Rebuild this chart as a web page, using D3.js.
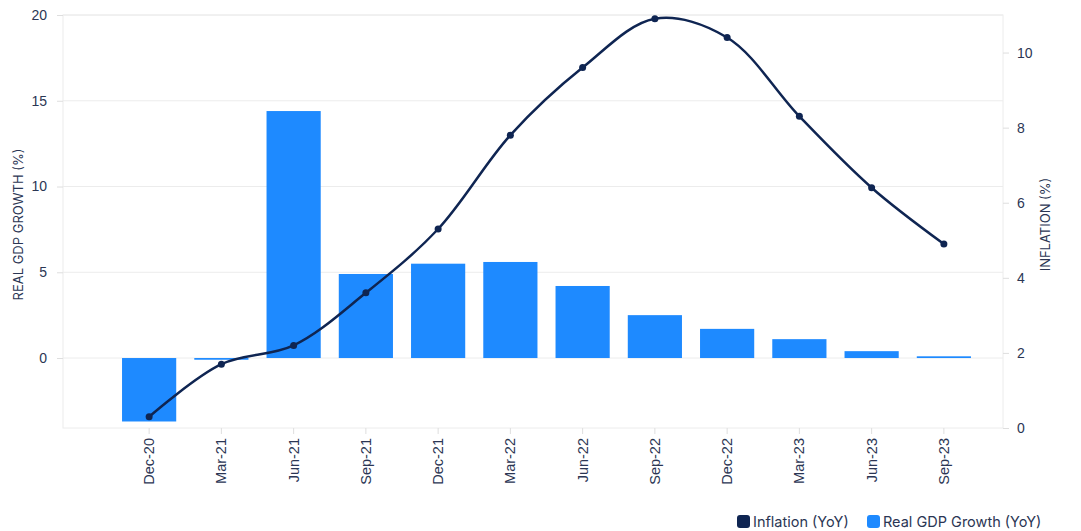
<!DOCTYPE html>
<html>
<head>
<meta charset="utf-8">
<script src="https://cdn.jsdelivr.net/npm/d3@7"></script>
<style>
  html, body { margin: 0; padding: 0; background: #fff; }
  svg { display: block; font-family: "Inter", "Noto Sans", sans-serif; }
</style>
</head>
<body>
<svg id="chart" width="1081" height="531"></svg>
<script>
// Quarterly data
const quarters = ["Dec-20", "Mar-21", "Jun-21", "Sep-21", "Dec-21", "Mar-22",
                  "Jun-22", "Sep-22", "Dec-22", "Mar-23", "Jun-23", "Sep-23"];
const gdpGrowth = [-3.7, -0.1, 14.4, 4.9, 5.5, 5.6, 4.2, 2.5, 1.7, 1.1, 0.4, 0.1];
const inflation = [0.3, 1.7, 2.2, 3.6, 5.3, 7.8, 9.6, 10.9, 10.4, 8.3, 6.4, 4.9];
const gdpTicks = [0, 5, 10, 15, 20];
const inflationTicks = [0, 2, 4, 6, 8, 10];

const textColor = "#2b3654";
const gridColor = "#ececec";
const barColor = "#1e8aff";
const lineColor = "#0f2552";

const svg = d3.select("#chart");
const plot = { left: 63, right: 1003, top: 15, bottom: 428 };

const x = d3.scaleBand().domain(quarters).range([113, 980])
  .paddingInner(0.25).paddingOuter(0.125);
const yL = d3.scaleLinear().domain([-4.08, 20]).range([plot.bottom, plot.top]);
const yR = d3.scaleLinear().domain([0, 11]).range([plot.bottom, plot.top]);

// Horizontal grid from the GDP axis
svg.append("g").selectAll("line").data(gdpTicks).join("line")
  .attr("x1", plot.left).attr("x2", plot.right)
  .attr("y1", d => yL(d)).attr("y2", d => yL(d))
  .attr("stroke", gridColor).attr("stroke-width", 1);

// Plot frame
svg.append("rect")
  .attr("x", plot.left).attr("y", plot.top)
  .attr("width", plot.right - plot.left).attr("height", plot.bottom - plot.top)
  .attr("fill", "none").attr("stroke", gridColor).attr("stroke-width", 1);

// Left axis
const leftAxis = svg.append("g")
  .attr("transform", `translate(${plot.left},0)`)
  .call(d3.axisLeft(yL).tickValues(gdpTicks).tickSize(6).tickPadding(10));
// Right axis
const rightAxis = svg.append("g")
  .attr("transform", `translate(${plot.right},0)`)
  .call(d3.axisRight(yR).tickValues(inflationTicks).tickSize(6).tickPadding(8));
// Bottom axis
const bottomAxis = svg.append("g")
  .attr("transform", `translate(0,${plot.bottom})`)
  .call(d3.axisBottom(x).tickSize(6).tickPadding(8));

[leftAxis, rightAxis, bottomAxis].forEach(g => {
  g.select(".domain").remove();
  g.selectAll(".tick line").attr("stroke", "#dedede");
  g.selectAll(".tick text").attr("fill", textColor).attr("font-size", 14);
});

bottomAxis.selectAll("text")
  .attr("transform", "rotate(-90)")
  .attr("text-anchor", "end")
  .attr("font-size", 14.5)
  .attr("dy", "0.35em")
  .attr("x", -10).attr("y", 0);

// Axis titles
svg.append("text")
  .attr("transform", `translate(23,${(plot.top + plot.bottom) / 2 + 3}) rotate(-90)`)
  .attr("text-anchor", "middle").attr("fill", textColor).attr("font-size", 13)
  .text("REAL GDP GROWTH (%)");
svg.append("text")
  .attr("transform", `translate(1050,${(plot.top + plot.bottom) / 2 + 3}) rotate(-90)`)
  .attr("text-anchor", "middle").attr("fill", textColor).attr("font-size", 13)
  .text("INFLATION (%)");

// GDP bars
svg.append("g").selectAll("rect").data(quarters).join("rect")
  .attr("x", d => x(d))
  .attr("width", x.bandwidth())
  .attr("y", (d, i) => yL(Math.max(0, gdpGrowth[i])))
  .attr("height", (d, i) => Math.max(1, Math.abs(yL(gdpGrowth[i]) - yL(0))))
  .attr("fill", barColor);

// Inflation line
const cx = d => x(d) + x.bandwidth() / 2;
const line = d3.line()
  .x((d, i) => cx(quarters[i]))
  .y(d => yR(d))
  .curve(d3.curveCatmullRom.alpha(0.5));
svg.append("path")
  .datum(inflation)
  .attr("d", line)
  .attr("fill", "none")
  .attr("stroke", lineColor)
  .attr("stroke-width", 2.5);
svg.append("g").selectAll("circle").data(inflation).join("circle")
  .attr("cx", (d, i) => cx(quarters[i]))
  .attr("cy", d => yR(d))
  .attr("r", 3.5)
  .attr("fill", lineColor);

// Legend
const legendItems = [
  { label: "Inflation (YoY)", color: lineColor, x: 737 },
  { label: "Real GDP Growth (YoY)", color: barColor, x: 867 }
];
const legend = svg.append("g").selectAll("g").data(legendItems).join("g")
  .attr("transform", d => `translate(${d.x},515)`);
legend.append("rect")
  .attr("width", 13).attr("height", 13).attr("rx", 3)
  .attr("fill", d => d.color);
legend.append("text")
  .attr("x", 16).attr("y", 11.5)
  .attr("fill", textColor).attr("font-size", 14.5)
  .text(d => d.label);
</script>
</body>
</html>
